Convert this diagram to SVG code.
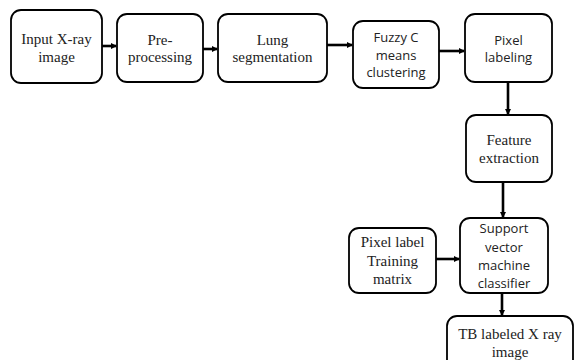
<svg xmlns="http://www.w3.org/2000/svg" width="574" height="360" viewBox="0 0 574 360">
<style>
.box{fill:#fff;stroke:#000;stroke-width:1.8}
.serif{font-family:'Liberation Serif','DejaVu Serif',serif;font-size:15px;fill:#222;text-anchor:middle}
.sans{font-family:'Open Sans','Liberation Sans',sans-serif;font-size:13px;fill:#222;text-anchor:middle}
.conn{stroke:#000;stroke-width:2.6;fill:none;marker-end:url(#ah)}
</style>
<defs>
<marker id="ah" viewBox="0 0 6 6" refX="5" refY="3" markerWidth="2.4" markerHeight="2.4" orient="auto" markerUnits="strokeWidth">
<path d="M0,0 L6,3 L0,6 z" fill="#000"/>
</marker>
</defs>
<rect width="574" height="360" fill="#fff"/>
<g id="connectors">
<line class="conn" x1="102" y1="46" x2="116" y2="46"/>
<line class="conn" x1="203" y1="49" x2="217" y2="49"/>
<line class="conn" x1="327" y1="45" x2="352" y2="45"/>
<line class="conn" x1="439" y1="51" x2="464" y2="51"/>
<line class="conn" x1="508" y1="82" x2="508" y2="114"/>
<line class="conn" x1="503" y1="182" x2="503" y2="217"/>
<line class="conn" x1="436" y1="259" x2="459" y2="259"/>
<line class="conn" x1="502" y1="293" x2="502" y2="315"/>
</g>
<g id="n1"><rect class="box" x="11" y="10" width="91" height="73" rx="10"/>
<text class="serif" x="56.5" y="44">Input X-ray</text><text class="serif" x="56.5" y="62">image</text></g>
<g id="n2"><rect class="box" x="117" y="14" width="86" height="68" rx="10"/>
<text class="serif" x="160" y="45">Pre-</text><text class="serif" x="160" y="62">processing</text></g>
<g id="n3"><rect class="box" x="218" y="14" width="109" height="68" rx="10"/>
<text class="serif" x="272.5" y="45">Lung</text><text class="serif" x="272.5" y="62">segmentation</text></g>
<g id="n4"><rect class="box" x="353" y="21" width="86" height="67" rx="10"/>
<text class="sans" x="396" y="42">Fuzzy C</text><text class="sans" x="396" y="60">means</text><text class="sans" x="396" y="77">clustering</text></g>
<g id="n5"><rect class="box" x="465" y="14" width="87" height="68" rx="10"/>
<text class="sans" x="508.5" y="45">Pixel</text><text class="sans" x="508.5" y="62">labeling</text></g>
<g id="n6"><rect class="box" x="466" y="115" width="86" height="67" rx="10"/>
<text class="serif" x="509" y="145">Feature</text><text class="serif" x="509" y="163">extraction</text></g>
<g id="n7"><rect class="box" x="460" y="218" width="88" height="75" rx="10"/>
<text class="sans" x="504" y="233">Support</text><text class="sans" x="504" y="252">vector</text><text class="sans" x="504" y="270">machine</text><text class="sans" x="504" y="288">classifier</text></g>
<g id="n8"><rect class="box" x="349" y="228" width="87" height="65" rx="10"/>
<text class="serif" x="392.5" y="247">Pixel label</text><text class="serif" x="392.5" y="266">Training</text><text class="serif" x="392.5" y="284">matrix</text></g>
<g id="n9"><rect class="box" x="447" y="316" width="126" height="60" rx="10"/>
<text class="serif" x="510" y="339">TB labeled X ray</text><text class="serif" x="510" y="357">image</text></g>
</svg>
